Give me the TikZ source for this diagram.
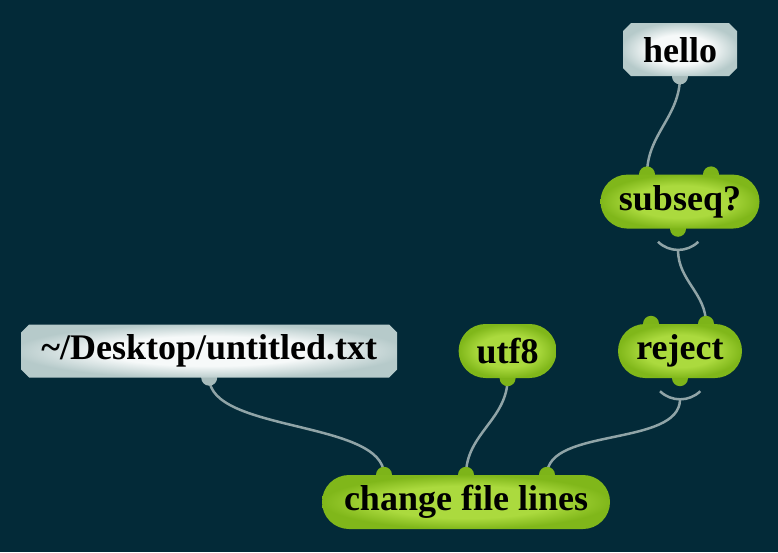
\documentclass[tikz,border=0pt]{standalone}
\usepackage{fontspec}
\setmainfont{Liberation Serif}
\usetikzlibrary{positioning,shapes.misc}

\definecolor{bgteal}{HTML}{032A38}
\definecolor{greenhi}{HTML}{ABDA3E}
\definecolor{greenlo}{HTML}{80B71A}
\definecolor{greenport}{HTML}{7DB419}
\definecolor{grayhi}{HTML}{F6F9F9}
\definecolor{graylo}{HTML}{B6CACA}
\definecolor{grayport}{HTML}{A7BBBB}
\definecolor{wiregray}{HTML}{90A4A7}

\pgfdeclareradialshading{greenglow}{\pgfpoint{0bp}{0bp}}{color(0bp)=(greenhi); color(15bp)=(greenhi); color(25bp)=(greenlo); color(50bp)=(greenlo)}
\pgfdeclareradialshading{grayglow}{\pgfpoint{0bp}{0bp}}{color(0bp)=(grayhi); color(14bp)=(grayhi); color(26bp)=(graylo); color(50bp)=(graylo)}

\pgfdeclarelayer{bg}
\pgfdeclarelayer{wires}
\pgfdeclarelayer{ports}
\pgfsetlayers{bg,wires,ports,main}

\begin{document}
\begin{tikzpicture}[x=1pt, y=1pt, font=\bfseries\fontsize{36}{40}\selectfont,
  fn/.style = {rounded rectangle, shading=greenglow, minimum height=54pt, inner sep=0pt},
  val/.style = {chamfered rectangle, chamfered rectangle xsep=4pt, chamfered rectangle ysep=4pt, shading=grayglow, minimum height=53pt, inner sep=0pt},
  fnport/.style = {circle, fill=greenport, minimum size=16pt, inner sep=0pt},
  valport/.style = {circle, fill=grayport, minimum size=16pt, inner sep=0pt},
  wire/.style = {draw=wiregray, line width=2.5pt}]

\node[fn, minimum width=288pt] (change) at (466,50) {change file lines};
\node[fn, minimum width=124pt] (reject) at (680,201) {reject};
\node[fn, minimum width=98pt] (utf8) [left=61pt of reject] {utf8};
\node[val, minimum width=376pt] (file) [left=61pt of utf8] {\textasciitilde/Desktop/untitled.txt};
\node[fn, minimum width=159pt] (subseq) [above=95pt of reject] {subseq?};
\node[val, minimum width=114pt] (hello) [above=98pt of subseq] {hello};

\begin{pgfonlayer}{ports}
\node[valport] (hello-o) at (hello.south) {};
\node[valport] (file-o) at (file.south) {};
\node[fnport] (subseq-i1) at ([xshift=-33pt]subseq.north) {};
\node[fnport] (subseq-i2) at ([xshift=31pt]subseq.north) {};
\node[fnport] (subseq-o) at ([xshift=-2pt]subseq.south) {};
\node[fnport] (reject-i1) at ([xshift=-29pt]reject.north) {};
\node[fnport] (reject-i2) at ([xshift=26pt]reject.north) {};
\node[fnport] (reject-o) at (reject.south) {};
\node[fnport] (utf8-o) at (utf8.south) {};
\node[fnport] (change-i1) at ([xshift=-82pt]change.north) {};
\node[fnport] (change-i2) at (change.north) {};
\node[fnport] (change-i3) at ([xshift=81pt]change.north) {};
\end{pgfonlayer}

\begin{pgfonlayer}{wires}
\coordinate (subseq-b) at ([yshift=-21pt]subseq-o.center);
\coordinate (reject-b) at ([yshift=-21pt]reject-o.center);
\draw[wire] ([shift={(-20,-13)}]subseq-o.center) arc[start angle=226, end angle=314, radius=29];
\draw[wire] ([shift={(-20,-13)}]reject-o.center) arc[start angle=226, end angle=314, radius=29];
\draw[wire] (hello-o.center) to[out=-90, in=90] (subseq-i1.center);
\draw[wire] (subseq-b) to[out=-90, in=90] (reject-i2.center);
\draw[wire] (file-o.center) to[out=-90, in=90, looseness=0.7] (change-i1.center);
\draw[wire] (utf8-o.center) to[out=-90, in=90] (change-i2.center);
\draw[wire] (reject-b) to[out=-90, in=90, looseness=0.8] (change-i3.center);
\end{pgfonlayer}

\begin{pgfonlayer}{bg}
\fill[bgteal] (0,0) rectangle (778,552);
\end{pgfonlayer}

\end{tikzpicture}
\end{document}
